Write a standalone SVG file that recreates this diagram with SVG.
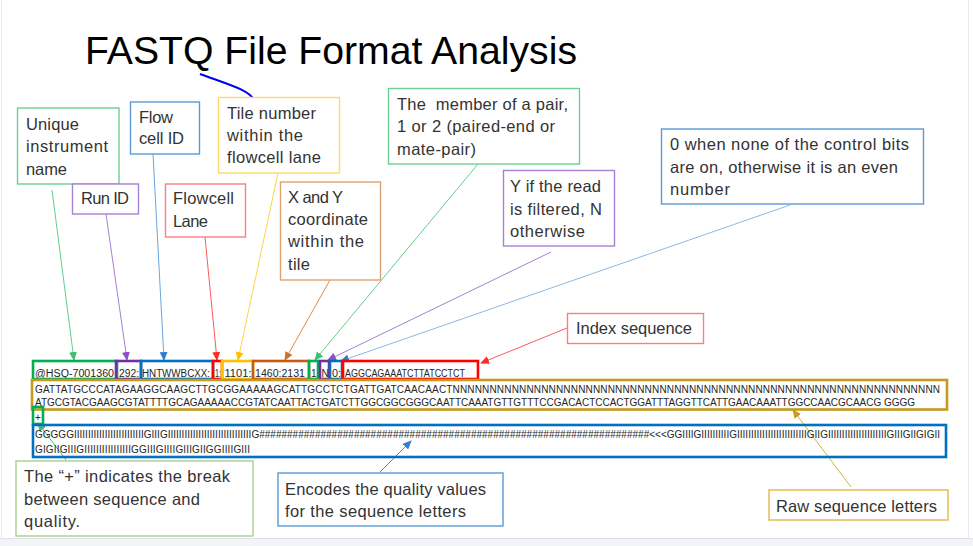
<svg xmlns="http://www.w3.org/2000/svg" width="973" height="546" viewBox="0 0 973 546">
<style>
.lbl{font-family:"Liberation Sans",Arial,sans-serif;font-size:16.5px;fill:#333}
.seq{font-family:"Liberation Sans",Arial,sans-serif;font-size:10px;fill:#262626}
.title{font-family:"Liberation Sans",Arial,sans-serif;font-size:39px;fill:#000}
.lb{fill:#fff;stroke-width:1.4}
.fb{fill:none;stroke-width:2.6}
.cn{fill:none;stroke-width:1}
</style>
<defs>
<marker id="aG" markerUnits="userSpaceOnUse" markerWidth="9" markerHeight="8" refX="8" refY="4" orient="auto"><path d="M0,0L9,4L0,8z" fill="#3fbf74"/></marker>
<marker id="aP" markerUnits="userSpaceOnUse" markerWidth="9" markerHeight="8" refX="8" refY="4" orient="auto"><path d="M0,0L9,4L0,8z" fill="#8a50c8"/></marker>
<marker id="aB" markerUnits="userSpaceOnUse" markerWidth="9" markerHeight="8" refX="8" refY="4" orient="auto"><path d="M0,0L9,4L0,8z" fill="#2f7fd0"/></marker>
<marker id="aR" markerUnits="userSpaceOnUse" markerWidth="9" markerHeight="8" refX="8" refY="4" orient="auto"><path d="M0,0L9,4L0,8z" fill="#ff2a2a"/></marker>
<marker id="aY" markerUnits="userSpaceOnUse" markerWidth="9" markerHeight="8" refX="8" refY="4" orient="auto"><path d="M0,0L9,4L0,8z" fill="#ffc000"/></marker>
<marker id="aO" markerUnits="userSpaceOnUse" markerWidth="9" markerHeight="8" refX="8" refY="4" orient="auto"><path d="M0,0L9,4L0,8z" fill="#d0702a"/></marker>
<marker id="aD" markerUnits="userSpaceOnUse" markerWidth="9" markerHeight="8" refX="8" refY="4" orient="auto"><path d="M0,0L9,4L0,8z" fill="#c99a1c"/></marker>
</defs>

<rect x="0" y="0" width="973" height="546" fill="#fff"/>
<rect x="0" y="539" width="973" height="7" fill="#f2f4f7"/>
<line x1="0" y1="538.5" x2="973" y2="538.5" stroke="#dde1e6" stroke-width="1"/>
<line x1="1.5" y1="0" x2="1.5" y2="539" stroke="#e6e9ed" stroke-width="1"/>
<line x1="968.5" y1="0" x2="968.5" y2="539" stroke="#e6e9ed" stroke-width="1"/>

<g id="title">
<text class="title" x="85" y="64" textLength="492" lengthAdjust="spacingAndGlyphs">FASTQ File Format Analysis</text>
<path d="M200,74 C230,85 249,90 254,100 C257,106 258,112 258,117" fill="none" stroke="#0000ee" stroke-width="2"/>
</g>

<g id="connectors">
<line class="cn" x1="52" y1="190" x2="74" y2="360" stroke="#5fcf8f" marker-end="url(#aG)"/>
<line class="cn" x1="106" y1="214" x2="127" y2="360" stroke="#a57fd6" marker-end="url(#aP)"/>
<line class="cn" x1="153" y1="154" x2="164" y2="360" stroke="#6aa6dc" marker-end="url(#aB)"/>
<line class="cn" x1="205" y1="237" x2="217" y2="360" stroke="#ff5a5a" marker-end="url(#aR)"/>
<line class="cn" x1="278" y1="173" x2="238" y2="360" stroke="#ffd24a" marker-end="url(#aY)"/>
<line class="cn" x1="330" y1="280" x2="285" y2="360" stroke="#e08a4a" marker-end="url(#aO)"/>
<line class="cn" x1="478" y1="164" x2="315" y2="360" stroke="#5fcf8f" marker-end="url(#aG)"/>
<line class="cn" x1="551" y1="252" x2="328" y2="360" stroke="#a57fd6" marker-end="url(#aP)"/>
<line class="cn" x1="790" y1="205" x2="341" y2="361" stroke="#8ab9e6" marker-end="url(#aB)"/>
<line class="cn" x1="567" y1="328" x2="481" y2="363" stroke="#ff5a5a" marker-end="url(#aR)"/>
<line class="cn" x1="66" y1="460" x2="38" y2="423" stroke="#3fbf74" marker-end="url(#aG)"/>
<line class="cn" x1="380" y1="472" x2="411" y2="441" stroke="#4a90d9" marker-end="url(#aB)"/>
<line class="cn" x1="851" y1="487" x2="793" y2="410" stroke="#d9b040" marker-end="url(#aD)"/>
</g>

<g id="n-unique">
<rect class="lb" x="17.5" y="108" width="101.5" height="76" stroke="#6dcf93"/>
<text class="lbl" x="26" y="130" textLength="53">Unique</text>
<text class="lbl" x="26" y="152" textLength="82">instrument</text>
<text class="lbl" x="26" y="175" textLength="41">name</text>
</g>
<g id="n-runid">
<rect class="lb" x="72.5" y="184" width="66" height="30" stroke="#a682d4"/>
<text class="lbl" x="81" y="204" textLength="48">Run ID</text>
</g>
<g id="n-flowcell">
<rect class="lb" x="130.5" y="102" width="69" height="52" stroke="#5b9bd5"/>
<text class="lbl" x="139" y="123" textLength="34">Flow</text>
<text class="lbl" x="139" y="144" textLength="45">cell ID</text>
</g>
<g id="n-tile">
<rect class="lb" x="218.5" y="97.5" width="121" height="75.5" stroke="#ffd966"/>
<text class="lbl" x="227" y="119" textLength="89">Tile number</text>
<text class="lbl" x="227" y="141" textLength="76">within the</text>
<text class="lbl" x="227" y="163" textLength="94">flowcell lane</text>
</g>
<g id="n-lane">
<rect class="lb" x="165.5" y="184" width="80" height="53" stroke="#ff7c80"/>
<text class="lbl" x="173" y="204" textLength="61">Flowcell</text>
<text class="lbl" x="173" y="227" textLength="35">Lane</text>
</g>
<g id="n-xy">
<rect class="lb" x="280.5" y="182" width="100" height="98" stroke="#e0a070"/>
<text class="lbl" x="288" y="203" textLength="55">X and Y</text>
<text class="lbl" x="288" y="225" textLength="80">coordinate</text>
<text class="lbl" x="288" y="247" textLength="76">within the</text>
<text class="lbl" x="288" y="270" textLength="22">tile</text>
</g>
<g id="n-member">
<rect class="lb" x="388.5" y="88.5" width="191" height="75.5" stroke="#6dcf93"/>
<text class="lbl" x="397" y="110" textLength="171" xml:space="preserve">The  member of a pair,</text>
<text class="lbl" x="397" y="132" textLength="158">1 or 2 (paired-end or</text>
<text class="lbl" x="397" y="155" textLength="79">mate-pair)</text>
</g>
<g id="n-filtered">
<rect class="lb" x="503.5" y="170.5" width="111" height="75.5" stroke="#a682d4"/>
<text class="lbl" x="510" y="192" textLength="91">Y if the read</text>
<text class="lbl" x="510" y="215" textLength="92">is filtered, N</text>
<text class="lbl" x="510" y="237" textLength="75">otherwise</text>
</g>
<g id="n-control">
<rect class="lb" x="661.5" y="129" width="262" height="75" stroke="#5b9bd5"/>
<text class="lbl" x="670" y="150" textLength="239">0 when none of the control bits</text>
<text class="lbl" x="670" y="173" textLength="228">are on, otherwise it is an even</text>
<text class="lbl" x="670" y="195" textLength="60">number</text>
</g>
<g id="n-index">
<rect class="lb" x="567.5" y="313.5" width="136" height="30" stroke="#ff7c80"/>
<text class="lbl" x="576" y="334" textLength="116">Index sequence</text>
</g>
<g id="n-plus">
<rect class="lb" x="16" y="461" width="237" height="75" stroke="#a9d18e"/>
<text class="lbl" x="24" y="482" textLength="206">The “+” indicates the break</text>
<text class="lbl" x="24" y="505" textLength="176">between sequence and</text>
<text class="lbl" x="24" y="527" textLength="56">quality.</text>
</g>
<g id="n-encodes">
<rect class="lb" x="278" y="473" width="225" height="53" stroke="#5b9bd5"/>
<text class="lbl" x="285" y="495" textLength="201">Encodes the quality values</text>
<text class="lbl" x="285" y="517" textLength="181">for the sequence letters</text>
</g>
<g id="n-raw">
<rect class="lb" x="769" y="490" width="179" height="30" stroke="#e2b84a"/>
<text class="lbl" x="776" y="512" textLength="161">Raw sequence letters</text>
</g>

<g id="n-header">
<text class="seq" x="35" y="376.5" textLength="79" lengthAdjust="spacingAndGlyphs">@HSQ-7001360</text>
<text class="seq" x="119" y="376.5" textLength="20" lengthAdjust="spacingAndGlyphs">292:</text>
<text class="seq" x="142" y="376.5" textLength="68" lengthAdjust="spacingAndGlyphs">HNTWWBCXX:</text>
<text class="seq" x="215" y="376.5" font-size="8.5" textLength="6" lengthAdjust="spacingAndGlyphs">1:</text>
<text class="seq" x="224.5" y="376.5" textLength="27" lengthAdjust="spacingAndGlyphs">1101:</text>
<text class="seq" x="255" y="376.5" textLength="50" lengthAdjust="spacingAndGlyphs">1460:2131</text>
<text class="seq" x="311" y="376.5">1</text>
<text class="seq" x="321.5" y="376.5">N</text>
<text class="seq" x="332" y="376.5" textLength="9" lengthAdjust="spacingAndGlyphs">0:</text>
<text class="seq" x="345" y="376.5" textLength="120" lengthAdjust="spacingAndGlyphs">AGGCAGAAATCTTATCCTCT</text>
<rect class="fb" x="33" y="361" width="84" height="18" stroke="#00b050"/>
<rect class="fb" x="116" y="361" width="25" height="18" stroke="#7030a0"/>
<rect class="fb" x="141" y="361" width="72" height="18" stroke="#0070c0"/>
<rect class="fb" x="213" y="361" width="9" height="18" stroke="#ff0000"/>
<rect class="fb" x="222" y="361" width="31" height="18" stroke="#ffc000"/>
<rect class="fb" x="253" y="361" width="56" height="18" stroke="#c55a11"/>
<rect class="fb" x="309" y="361" width="9" height="18" stroke="#00b050"/>
<rect class="fb" x="320" y="361" width="9" height="18" stroke="#7030a0"/>
<rect class="fb" x="330" y="361" width="12" height="18" stroke="#0070c0"/>
<rect class="fb" x="343" y="361" width="135" height="18" stroke="#ff0000"/>
</g>

<g id="n-sequence">
<rect class="fb" x="32" y="380" width="915" height="29.5" stroke="#c49a1f"/>
<text class="seq" x="35" y="393" font-size="10.3" textLength="905">GATTATGCCCATAGAAGGCAAGCTTGCGGAAAAAGCATTGCCTCTGATTGATCAACAACTNNNNNNNNNNNNNNNNNNNNNNNNNNNNNNNNNNNNNNNNNNNNNNNNNNNNNNNNNNNNNNNNNN</text>
<text class="seq" x="35" y="406" font-size="9.9" textLength="880">ATGCGTACGAAGCGTATTTTGCAGAAAAACCGTATCAATTACTGATCTTGGCGGCGGGCAATTCAAATGTTGTTTCCGACACTCCACTGGATTTAGGTTCATTGAACAAATTGGCCAACGCAACG GGGG</text>
</g>

<g id="n-plussign">
<rect class="fb" x="33" y="407" width="10" height="17" stroke="#00b050"/>
<text class="seq" x="35" y="421">+</text>
</g>

<g id="n-quality">
<rect class="fb" x="33" y="425" width="913" height="32" stroke="#0070c0"/>
<text class="seq" x="35" y="438" font-size="9.9" textLength="905">GGGGGIIIIIIIIIIIIIIIIIIIIIIIIIGIIIGIIIIIIIIIIIIIIIIIIIIIIIIIIIIIIG######################################################################&lt;&lt;&lt;GGIIIIGIIIIIIIIIIGIIIIIIIIIIIIIIIIIIIIIIIIIGIIGIIIIIIIIIIIIIIIIIIIIIGIIIGIIGIGII</text>
<text class="seq" x="35" y="453" font-size="10.1" textLength="215">GIGIIGIIIGIIIIIIIIIIIIIIIIGGIIIGIIIIGIIIGIIGGIIIIGIII</text>
</g>
</svg>
